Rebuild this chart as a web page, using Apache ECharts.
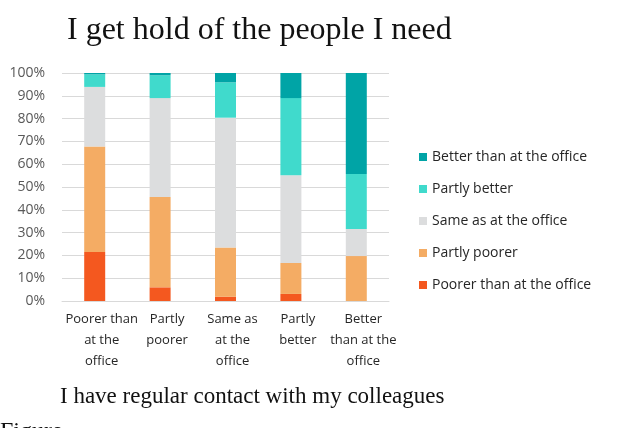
<!DOCTYPE html>
<html>
<head>
<meta charset="utf-8">
<script src="https://cdn.jsdelivr.net/npm/echarts@6/dist/echarts.min.js"></script>
<style>
  html, body { margin: 0; padding: 0; background: #fff; }
  #chart { width: 625px; height: 428px; }
</style>
</head>
<body>
<div id="chart"></div>
<script>
// Answer categories along the x axis
var categories = [
  'Poorer than\nat the\noffice',
  'Partly\npoorer',
  'Same as\nat the\noffice',
  'Partly\nbetter',
  'Better\nthan at the\noffice'
];

// Share of answers (%) per rating, one value per category
var poorerThanOffice = [21.5, 6.0, 1.9, 3.1, 0];
var partlyPoorer     = [46.3, 39.6, 21.6, 13.6, 19.7];
var sameAsOffice     = [26.1, 43.4, 56.9, 38.4, 11.9];
var partlyBetter     = [5.5, 10.0, 15.5, 33.9, 24.1];
var betterThanOffice = [0.6, 1.0, 4.1, 11.0, 44.3];

var seriesNames = [
  'Poorer than at the office',
  'Partly poorer',
  'Same as at the office',
  'Partly better',
  'Better than at the office'
];
var seriesValues = [poorerThanOffice, partlyPoorer, sameAsOffice, partlyBetter, betterThanOffice];
var seriesColors = ['#F4581F', '#F4AC64', '#DCDDDE', '#40DACC', '#00A4A6'];

var chart = echarts.init(document.getElementById('chart'), null, { renderer: 'canvas' });

var series = seriesNames.map(function (name, i) {
  return {
    name: name,
    type: 'bar',
    stack: 'total',
    barWidth: 21,
    itemStyle: { color: seriesColors[i] },
    data: seriesValues[i]
  };
});

chart.setOption({
  animation: false,
  backgroundColor: '#ffffff',
  color: seriesColors,
  title: {
    text: 'I get hold of the people I need',
    left: 67,
    top: 15,
    padding: 0,
    textStyle: {
      fontFamily: 'Liberation Serif',
      fontWeight: 'normal',
      fontSize: 32,
      color: '#111111'
    }
  },
  graphic: [
    {
      type: 'text',
      left: 60,
      top: 385,
      style: {
        text: 'I have regular contact with my colleagues',
        font: '23px "Liberation Serif"',
        fill: '#111111'
      }
    },
    {
      type: 'text',
      left: 0,
      top: 420,
      style: {
        text: 'Figure',
        font: '24px "Liberation Serif"',
        fill: '#111111'
      }
    }
  ],
  legend: {
    orient: 'vertical',
    left: 419,
    top: 150,
    padding: 0,
    itemWidth: 8,
    itemHeight: 8,
    itemGap: 18,
    icon: 'rect',
    data: seriesNames.slice().reverse(),
    textStyle: {
      fontFamily: 'Open Sans',
      fontSize: 14,
      color: '#262626'
    }
  },
  grid: {
    left: 62,
    right: 236,
    top: 73,
    bottom: 127,
    containLabel: false
  },
  xAxis: {
    type: 'category',
    data: categories,
    axisLine: { show: true, lineStyle: { color: '#D9D9D9', width: 1 } },
    axisTick: { show: false },
    axisLabel: {
      interval: 0,
      margin: 8,
      fontFamily: 'Open Sans',
      fontSize: 13,
      lineHeight: 21,
      color: '#262626',
      padding: [0, 0, 0, 14]
    }
  },
  yAxis: {
    type: 'value',
    min: 0,
    max: 100,
    interval: 10,
    axisLine: { show: false },
    axisTick: { show: false },
    splitLine: { lineStyle: { color: '#D9D9D9', width: 1 } },
    axisLabel: {
      formatter: '{value}%',
      margin: 17,
      fontFamily: 'Open Sans',
      fontSize: 14,
      color: '#595959'
    }
  },
  series: series
});
</script>
</body>
</html>
